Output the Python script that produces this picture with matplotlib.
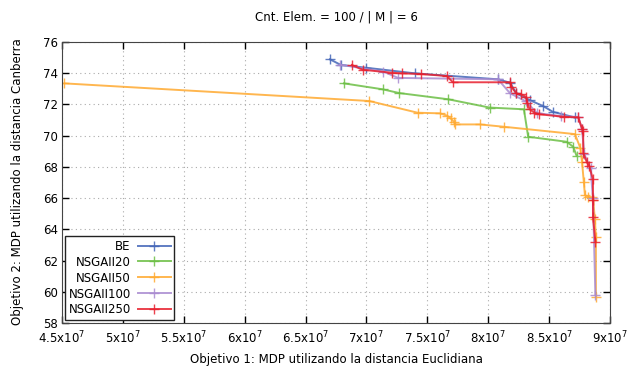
import matplotlib
matplotlib.use("Agg")
import matplotlib.pyplot as plt
from matplotlib.ticker import FixedLocator, FixedFormatter

plt.rcParams['font.family'] = ['DejaVu Sans']

# data (x in units of 1e7)
be_x = [6.70, 6.79, 7.00, 7.40, 8.08, 8.18, 8.23, 8.34, 8.45, 8.53, 8.71]
be_y = [74.89, 74.53, 74.35, 73.99, 73.61, 73.39, 72.71, 72.28, 71.90, 71.53, 71.17]

g20_x = [6.815, 7.133, 7.269, 7.672, 8.011, 8.293, 8.328, 8.643, 8.698, 8.725]
g20_y = [73.35, 72.97, 72.73, 72.33, 71.80, 71.69, 69.93, 69.61, 69.29, 68.72]

g50_x = [4.519, 7.023, 7.420, 7.603, 7.663, 7.691, 7.718, 7.727, 7.932, 8.129,
         8.712, 8.757, 8.770, 8.785, 8.794, 8.821, 8.849, 8.862, 8.876, 8.884, 8.884]
g50_y = [73.35, 72.22, 71.47, 71.43, 71.28, 71.11, 70.89, 70.72, 70.72, 70.57,
         70.10, 69.20, 68.33, 67.04, 66.19, 66.08, 66.05, 65.87, 64.63, 63.48, 59.67]

g100_x = [6.78, 7.14, 7.26, 8.08, 8.18, 8.31, 8.40, 8.60, 8.74, 8.77, 8.79, 8.84, 8.86, 8.88]
g100_y = [74.55, 74.10, 73.70, 73.61, 72.71, 72.20, 71.45, 71.25, 71.20, 70.40, 68.80, 67.90, 66.00, 59.80]

g250_x = [6.88, 6.97, 7.21, 7.29, 7.45, 7.66, 7.71, 8.18, 8.19, 8.23, 8.27, 8.31,
          8.32, 8.34, 8.38, 8.42, 8.62, 8.74, 8.77, 8.78, 8.78, 8.81, 8.83, 8.86,
          8.86, 8.86, 8.88]
g250_y = [74.53, 74.22, 74.03, 73.99, 73.95, 73.82, 73.42, 73.42, 73.14, 72.71,
          72.65, 72.49, 72.11, 71.69, 71.47, 71.37, 71.21, 71.17, 70.45, 70.28,
          68.90, 68.30, 68.05, 67.20, 65.90, 64.80, 63.20]

x_ticks = [4.5, 5.0, 5.5, 6.0, 6.5, 7.0, 7.5, 8.0, 8.5, 9.0]
x_labels = ['4.5x10$^7$', '5x10$^7$', '5.5x10$^7$', '6x10$^7$', '6.5x10$^7$',
            '7x10$^7$', '7.5x10$^7$', '8x10$^7$', '8.5x10$^7$', '9x10$^7$']
y_ticks = [58, 60, 62, 64, 66, 68, 70, 72, 74, 76]

series = [
    ("BE", be_x, be_y, "#4466b8"),
    ("NSGAII20", g20_x, g20_y, "#6cbf45"),
    ("NSGAII50", g50_x, g50_y, "#ffaa30"),
    ("NSGAII100", g100_x, g100_y, "#a98bd0"),
    ("NSGAII250", g250_x, g250_y, "#e8202e"),
]

fig = plt.figure(figsize=(6.32, 3.66), dpi=100)
ax = fig.add_axes([62 / 632, 43 / 366, 548 / 632, 281 / 366])

for name, xs, ys, col in series:
    ax.plot([v * 1e7 for v in xs], ys, color=col, lw=1.4, alpha=0.85,
            marker='+', ms=7, mew=1.0, label=name)

ax.set_xlim(4.5e7, 9.0e7)
ax.set_ylim(58, 76)
ax.xaxis.set_major_locator(FixedLocator([v * 1e7 for v in x_ticks]))
ax.xaxis.set_major_formatter(FixedFormatter(x_labels))
ax.set_yticks(y_ticks)
ax.tick_params(direction='in', top=True, right=True, length=5, width=1,
               labelsize=8.5, pad=3)
ax.tick_params(axis='x', pad=5)
ax.grid(True, color='#aaaaaa', linestyle=(0, (1, 3)), lw=0.8)
for s in ax.spines.values():
    s.set_color('#444444')

fig.text(336 / 632, 1 - 17 / 366, 'Cnt. Elem. = 100 / | M | = 6',
         ha='center', va='center', fontsize=8.5)
fig.text(18 / 632, 1 - 182 / 366, 'Objetivo 2: MDP utilizando la distancia Canberra',
         ha='center', va='center', rotation=90, fontsize=8.5)
fig.text(336 / 632, 1 - 353 / 366, 'Objetivo 1: MDP utilizando la distancia Euclidiana',
         ha='center', va='top', fontsize=8.5)

# markerfirst=False right-aligns the rows, so labels end up right-aligned
leg = ax.legend(loc='lower left', bbox_to_anchor=(3 / 548, 3 / 281),
                markerfirst=False, fontsize=8.5, frameon=True, fancybox=False,
                edgecolor='#222222', framealpha=1, handlelength=2.8,
                borderpad=0.3, labelspacing=0.25, handletextpad=0.6,
                borderaxespad=0)
leg.get_frame().set_linewidth(1.0)

fig.savefig('out.png', dpi=100)
